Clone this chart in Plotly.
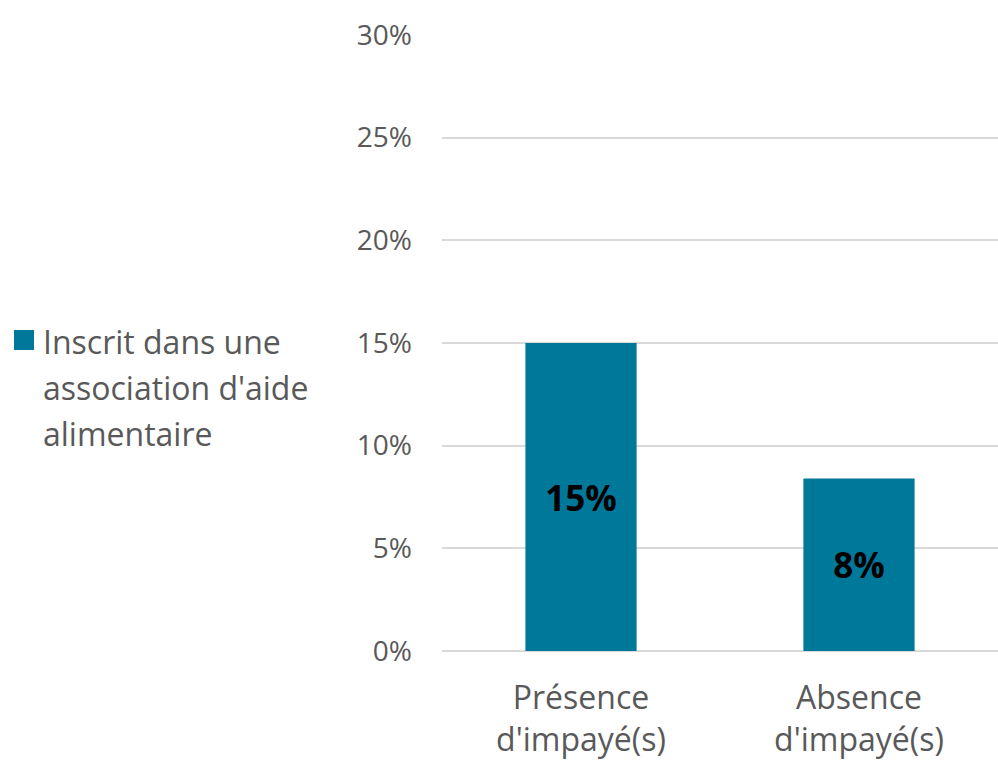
import plotly.graph_objects as go

categories = ["Présence<br>d'impayé(s)", "Absence<br>d'impayé(s)"]
inscrit_pct = [15.0, 8.4]
y_ticks = [0, 5, 10, 15, 20, 25, 30]
legend_lines = ["Inscrit dans une", "association d'aide", "alimentaire"]

BAR_COLOR = "#00789A"
TEXT_GREY = "#595959"
FONT = "Open Sans"

# plot area geometry (pixels) used to place the side legend
L, R, T, B = 442, 0, 35, 113
W, H = 998, 764
PW, PH = W - L - R, H - T - B


def px_x(x):
    return (x - L) / PW


def px_y(y):
    return (H - B - y) / PH


fig = go.Figure()
fig.add_trace(go.Bar(
    x=categories,
    y=inscrit_pct,
    name=" ".join(legend_lines),
    marker=dict(color=BAR_COLOR, line=dict(width=0)),
    text=inscrit_pct,
    texttemplate="%{text:.0f}%",
    textposition="inside",
    insidetextanchor="middle",
    textangle=0,
    insidetextfont=dict(family=FONT, size=35, color="black", weight="bold"),
    showlegend=False,
))

# side legend: colour swatch + wrapped series name
fig.add_shape(
    type="rect", xref="paper", yref="paper",
    x0=px_x(14), x1=px_x(34), y0=px_y(350), y1=px_y(330),
    fillcolor=BAR_COLOR, line=dict(width=0),
)
for i, line in enumerate(legend_lines):
    fig.add_annotation(
        x=px_x(41), y=px_y(341 + 46 * i), xref="paper", yref="paper",
        xanchor="left", yanchor="middle", showarrow=False,
        text=line, font=dict(family=FONT, size=32, color=TEXT_GREY),
    )

fig.update_layout(
    width=W,
    height=H,
    margin=dict(l=L, r=R, t=T, b=B),
    paper_bgcolor="white",
    plot_bgcolor="white",
    bargap=0.6,
    font=dict(family=FONT, color=TEXT_GREY),
    showlegend=False,
    xaxis=dict(
        tickfont=dict(family=FONT, size=32, color=TEXT_GREY),
        showgrid=False,
        showline=False,
        ticks="",
        ticklabelstandoff=25,
    ),
    yaxis=dict(
        range=[0, 30],
        tickvals=y_ticks,
        ticktext=[f"{v}%" for v in y_ticks],
        tickfont=dict(family=FONT, size=28, color=TEXT_GREY),
        showgrid=True,
        gridcolor="#D9D9D9",
        gridwidth=2,
        zeroline=True,
        zerolinecolor="#D9D9D9",
        zerolinewidth=2,
        showline=False,
        ticks="",
        ticklabelstandoff=29,
    ),
)

fig.write_html("out.html")
